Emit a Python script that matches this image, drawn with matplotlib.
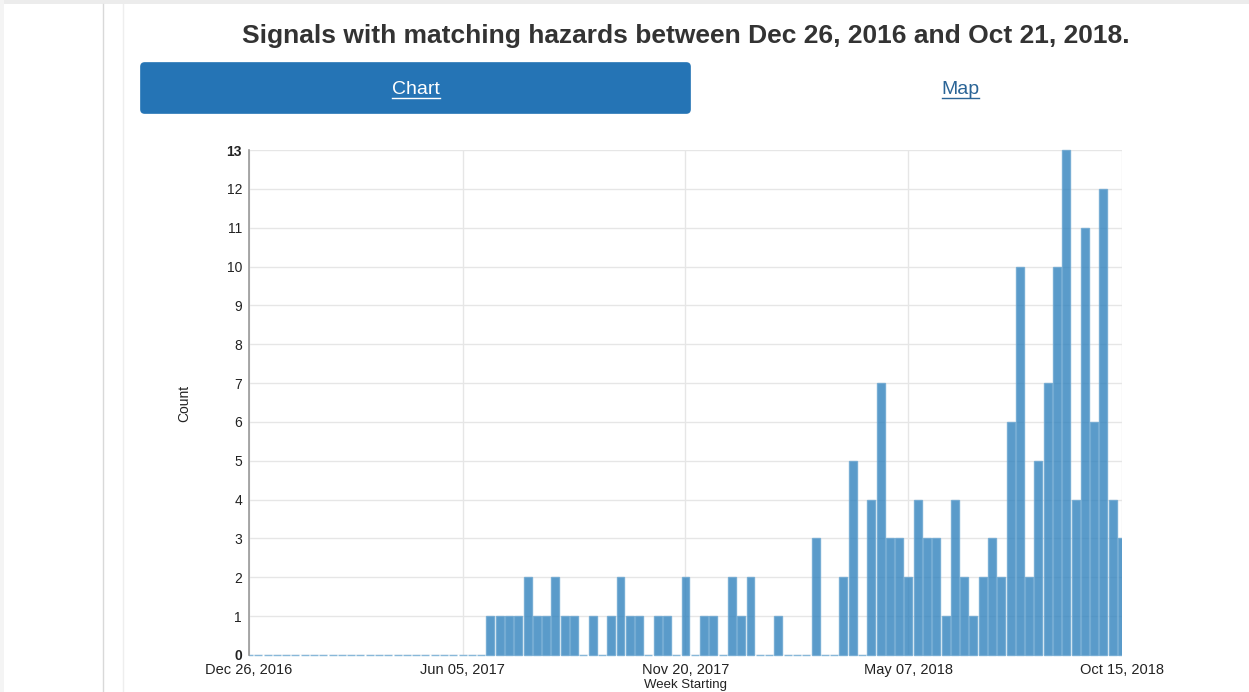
import matplotlib
matplotlib.use("Agg")
import matplotlib.pyplot as plt
from matplotlib.patches import FancyBboxPatch, Rectangle
from matplotlib.lines import Line2D
import pandas as pd

plt.rcParams['font.family'] = ['Liberation Sans', 'DejaVu Sans']

title = "Signals with matching hazards between Dec 26, 2016 and Oct 21, 2018."
week_start = "2016-12-26"
counts = [0]*26 + [
    1, 1, 1, 1, 2, 1, 1, 2, 1, 1,   # 26-35
    0, 1, 0, 1, 2, 1, 1, 0, 1, 1,   # 36-45
    0, 2, 0, 1, 1, 0, 2, 1, 2, 0,   # 46-55
    0, 1, 0, 0, 0, 3, 0, 0, 2, 5,   # 56-65
    0, 4, 7, 3, 3, 2, 4, 3, 3, 1,   # 66-75
    4, 2, 1, 2, 3, 2, 6, 10, 2, 5,  # 76-85
    7, 10, 13, 4, 11, 6, 12, 4, 3   # 86-94
]
weeks = pd.date_range(week_start, periods=len(counts), freq="7D")
tick_dates = pd.to_datetime(["2016-12-26", "2017-06-05", "2017-11-20", "2018-05-07", "2018-10-15"])
tick_labels = ["Dec 26, 2016", "Jun 05, 2017", "Nov 20, 2017", "May 07, 2018", "Oct 15, 2018"]
y_ticks = list(range(0, 14))

W, H = 1249, 692
fig = plt.figure(figsize=(W/100, H/100), dpi=100)
fig.patch.set_facecolor("white")

# page decorations
fig.add_artist(Rectangle((0, 1 - 4/H), 1, 4/H, transform=fig.transFigure, color="#ececec", lw=0))
fig.add_artist(Line2D([102.5/W]*2, [0, 1 - 4/H], transform=fig.transFigure, color="#d9d9d9", lw=1))
fig.add_artist(Line2D([122.5/W]*2, [0, 1 - 4/H], transform=fig.transFigure, color="#eeeeee", lw=1))
fig.add_artist(Rectangle((0, 0), 4/W, 1, transform=fig.transFigure, color="#f4f4f4", lw=0))

fig.text(686/W, 1 - 36/H, title, ha="center", va="center", fontsize=19,
         fontweight="bold", color="#333333")

# button
bx0, by0, bx1, by1 = 141, 63, 690, 113
btn = FancyBboxPatch(((bx0 + 3)/W, 1 - (by1 - 3)/H), (bx1 - bx0 - 6)/W, (by1 - by0 - 6)/H,
                     boxstyle="round,pad=0.0025,rounding_size=0.003",
                     transform=fig.transFigure, facecolor="#2574b5", edgecolor="#2574b5", lw=1,
                     mutation_aspect=W/H)
fig.add_artist(btn)
fig.text(416/W, 1 - 89/H, "Chart", ha="center", va="center", fontsize=14, color="white")
fig.text(960/W, 1 - 89/H, "Map", ha="center", va="center", fontsize=14, color="#2a6496")
fig.add_artist(Line2D([392/W, 440/W], [1 - 98/H]*2, transform=fig.transFigure, color="white", lw=1))
fig.add_artist(Line2D([942/W, 979/W], [1 - 98/H]*2, transform=fig.transFigure, color="#2a6496", lw=1))

# chart axes
ax_l, ax_r, ax_t, ax_b = 249, 1122, 150, 655
ax = fig.add_axes([ax_l/W, 1 - ax_b/H, (ax_r - ax_l)/W, (ax_b - ax_t)/H])
ax.set_axisbelow(True)
bars = ax.bar(weeks, counts, width=6.0, align="center", color="#3182bd", alpha=0.8,
              edgecolor="#6aa6d0", linewidth=1.0)
clip = Rectangle((0, -0.006), 1, 1.012, transform=ax.transAxes, facecolor="none", edgecolor="none")
ax.add_patch(clip)
for b in bars:
    b.set_clip_path(clip)
ax.set_xlim(tick_dates[0], tick_dates[-1])
ax.set_ylim(0, 13)
ax.set_yticks(y_ticks)
ax.set_yticklabels([str(v) for v in y_ticks])
for lbl in (ax.get_yticklabels()[0], ax.get_yticklabels()[-1]):
    lbl.set_fontweight("bold")
ax.set_xticks(tick_dates)
ax.set_xticklabels(tick_labels)
ax.grid(True, color="#e6e6e6", lw=1)
for s in ["top", "right", "bottom"]:
    ax.spines[s].set_visible(False)
ax.spines["left"].set_color("#999999")
ax.spines["left"].set_linewidth(1.2)
ax.tick_params(axis="y", length=0, pad=5, labelsize=10, colors="#222222")
ax.tick_params(axis="x", length=0, pad=6, labelsize=10.5, colors="#222222")

fig.text(184/W, 1 - 403/H, "Count", rotation=90, ha="center", va="center", fontsize=10, color="#222222")
fig.text(686/W, 1 - 691/H, "Week Starting", ha="center", va="bottom", fontsize=9.5, color="#222222")

fig.savefig("out.png", dpi=100, facecolor="white")
